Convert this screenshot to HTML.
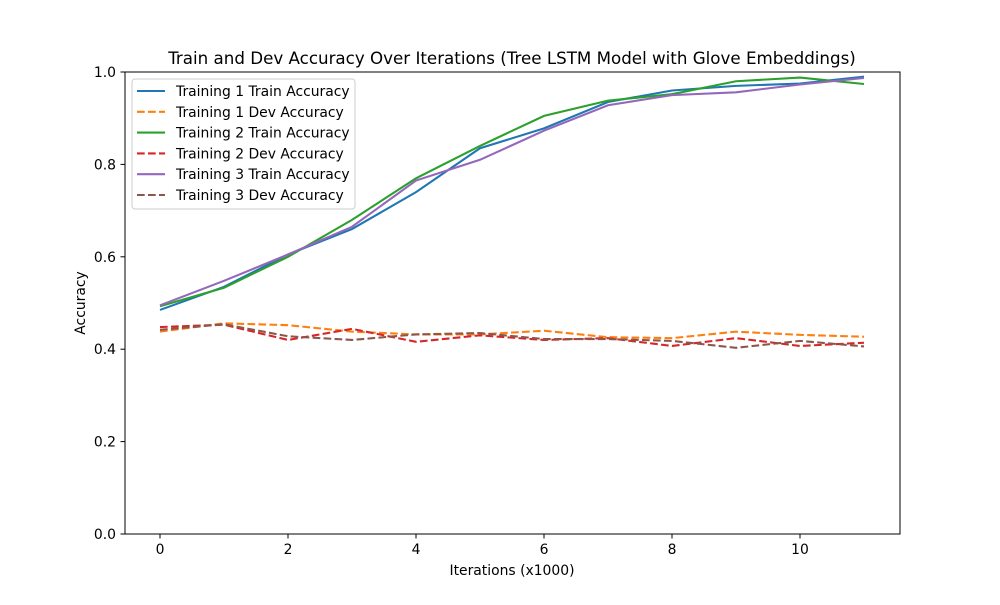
<!DOCTYPE html>
<html><head><meta charset="utf-8"><style>
body{margin:0;background:#fff}
text{font-family:"DejaVu Sans","Liberation Sans",sans-serif;fill:#000}
</style></head><body>
<svg id="chart" width="1000" height="600" xmlns="http://www.w3.org/2000/svg">
<rect width="1000" height="600" fill="#fff"/>
<text x="512" y="64" font-size="16.7" text-anchor="middle">Train and Dev Accuracy Over Iterations (Tree LSTM Model with Glove Embeddings)</text>
<g id="axes"></g>
<g id="lines"></g>
<rect x="125" y="72" width="775" height="462" fill="none" stroke="#000" stroke-width="1"/>
<text x="512" y="575" font-size="13.9" text-anchor="middle">Iterations (x1000)</text>
<text transform="translate(85,303) rotate(-90)" font-size="13.9" text-anchor="middle">Accuracy</text>
<g id="legend"></g>
</svg>
<script>
const iterations=[0,1,2,3,4,5,6,7,8,9,10,11];
const t1Train=[0.485,0.535,0.605,0.66,0.74,0.835,0.878,0.935,0.96,0.97,0.975,0.99];
const t1Dev=[0.438,0.456,0.452,0.438,0.432,0.432,0.44,0.426,0.424,0.438,0.431,0.427];
const t2Train=[0.493,0.533,0.60,0.68,0.77,0.84,0.905,0.938,0.952,0.98,0.988,0.974];
const t2Dev=[0.448,0.453,0.42,0.444,0.416,0.43,0.42,0.424,0.407,0.424,0.407,0.414];
const t3Train=[0.495,0.548,0.605,0.665,0.765,0.81,0.873,0.928,0.95,0.956,0.973,0.987];
const t3Dev=[0.442,0.454,0.428,0.42,0.432,0.435,0.422,0.422,0.418,0.403,0.418,0.406];
const xTicks=[0,2,4,6,8,10];
const yTicks=[0,0.2,0.4,0.6,0.8,1.0];
const yTickLabels=["0.0","0.2","0.4","0.6","0.8","1.0"];
const seriesNames=["Training 1 Train Accuracy","Training 1 Dev Accuracy","Training 2 Train Accuracy","Training 2 Dev Accuracy","Training 3 Train Accuracy","Training 3 Dev Accuracy"];
const NS="http://www.w3.org/2000/svg";
const X=v=>160+v*64, Y=v=>534-v*462;
function mk(t,a,p){const e=document.createElementNS(NS,t);for(const k in a)e.setAttribute(k,a[k]);p.appendChild(e);return e;}
const axes=document.getElementById('axes');
xTicks.forEach(t=>{
 const l=mk('line',{x1:X(t),x2:X(t),y1:534,y2:538.5,stroke:'#000'},axes);
 
 
 const tx=mk('text',{x:X(t),y:554,'font-size':13.9,'text-anchor':'middle'},axes);tx.textContent=t;
 
 
});
yTicks.forEach((t,i)=>{
 const l=mk('line',{x1:120.5,x2:125,y1:Y(t),y2:Y(t),stroke:'#000'},axes);
 
 
 const tx=mk('text',{x:116,y:Y(t)+5,'font-size':13.9,'text-anchor':'end'},axes);tx.textContent=yTickLabels[i];
 
 
});
const series=[[t1Train,'#1f77b4',false],[t1Dev,'#ff7f0e',true],[t2Train,'#2ca02c',false],[t2Dev,'#d62728',true],[t3Train,'#9467bd',false],[t3Dev,'#8c564b',true]];
const lines=document.getElementById('lines');
series.forEach((s,i)=>{
 const d=s[0].map((v,j)=>(j?'L':'M')+X(iterations[j])+','+Y(v)).join('');
 const p=mk('path',{d:d,fill:'none',stroke:s[1],'stroke-width':2.08},lines);
 if(s[2])p.setAttribute('stroke-dasharray','7.7,3.3');
 
 
});
const lg=document.getElementById('legend');
mk('rect',{x:132,y:79,width:223,height:130,rx:3,fill:'#fff','fill-opacity':0.8,stroke:'#ccc'},lg);
series.forEach((s,i)=>{
 const y=91+i*20.8;
 const l=mk('line',{x1:137,x2:165,y1:y,y2:y,stroke:s[1],'stroke-width':2.08},lg);
 if(s[2])l.setAttribute('stroke-dasharray','7.7,3.3');
 
 
 const t=mk('text',{x:176,y:y+5,'font-size':13.9},lg);t.textContent=seriesNames[i];
 
 
});
</script>
</body></html>
